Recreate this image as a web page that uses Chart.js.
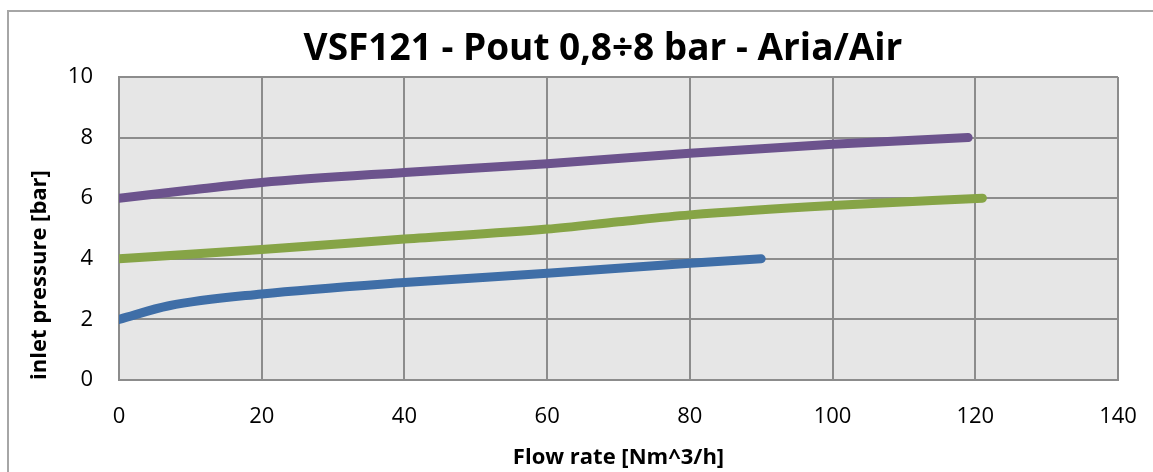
<!DOCTYPE html>
<html>
<head>
<meta charset="utf-8">
<script src="https://cdn.jsdelivr.net/npm/chart.js@4.4.1/dist/chart.umd.min.js"></script>
<style>
  html, body { margin: 0; padding: 0; background: #fff; overflow: hidden; }
  #frame {
    position: absolute; left: 7px; top: 10px; width: 1300px; height: 600px;
    border: 2px solid #a6a6a6; box-sizing: border-box;
  }
  #wrap { position: absolute; left: 0; top: 0; width: 1153px; height: 472px; }
</style>
</head>
<body>
<div id="frame"></div>
<div id="wrap"><canvas id="flowChart"></canvas></div>
<script>
// Curves (flow rate -> inlet pressure)
const lowFlow = [0, 7, 20, 40, 60, 80, 90];
const lowPressure = [2.0, 2.45, 2.84, 3.22, 3.52, 3.85, 4.0];

const midFlow = [0, 20, 40, 60, 70, 80, 100, 121];
const midPressure = [4.0, 4.31, 4.65, 4.98, 5.22, 5.45, 5.76, 6.0];

const highFlow = [0, 10, 20, 40, 60, 80, 100, 119];
const highPressure = [6.0, 6.27, 6.52, 6.85, 7.14, 7.48, 7.78, 8.0];

const xTicks = [0, 20, 40, 60, 80, 100, 120, 140];
const yTicks = [0, 2, 4, 6, 8, 10];

const chartTitle = 'VSF121 - Pout 0,8÷8 bar - Aria/Air';

const FONT = "'Open Sans', sans-serif";
const GRID = '#8c8c8c';

function toPoints(xs, ys) {
    return xs.map((x, i) => ({ x: x, y: ys[i] }));
}

function curve(xs, ys, color) {
    return {
        data: toPoints(xs, ys),
        borderColor: color,
        backgroundColor: color,
        borderWidth: 9,
        borderCapStyle: 'round',
        borderJoinStyle: 'round',
        pointRadius: 0,
        showLine: true,
        cubicInterpolationMode: 'monotone'
    };
}

// Grey plot background
const plotBackground = {
    id: 'plotBackground',
    beforeDraw(chart) {
        const { ctx, chartArea } = chart;
        ctx.save();
        ctx.fillStyle = '#e6e6e6';
        ctx.fillRect(chartArea.left, chartArea.top, chartArea.width, chartArea.height);
        ctx.restore();
    }
};

// Title centred on the outer frame rather than the plot
const frameTitle = {
    id: 'frameTitle',
    afterDraw(chart) {
        const ctx = chart.ctx;
        ctx.save();
        ctx.font = "bold 37px " + FONT;
        ctx.fillStyle = '#000';
        ctx.textAlign = 'center';
        ctx.textBaseline = 'middle';
        ctx.fillText(chartTitle, 603, 49.5);
        ctx.restore();
    }
};

const ctx = document.getElementById('flowChart').getContext('2d');
new Chart(ctx, {
    type: 'scatter',
    data: {
        datasets: [
            curve(lowFlow, lowPressure, '#3f6ea7'),
            curve(midFlow, midPressure, '#86a446'),
            curve(highFlow, highPressure, '#6c538d')
        ]
    },
    options: {
        responsive: true,
        maintainAspectRatio: false,
        animation: false,
        layout: { padding: { left: 0, right: 35, top: 77, bottom: 0 } },
        plugins: {
            legend: { display: false },
            tooltip: { enabled: false },
            title: { display: false }
        },
        scales: {
            x: {
                type: 'linear',
                min: 0,
                max: 140,
                afterBuildTicks: scale => { scale.ticks = xTicks.map(v => ({ value: v })); },
                afterFit: scale => {
                    scale.height = 92;
                    scale.paddingLeft = 0;
                    scale.paddingRight = 0;
                },
                grid: { color: GRID, lineWidth: 2, drawTicks: false },
                border: { color: GRID, width: 2 },
                ticks: { color: '#000', padding: 24, font: { family: FONT, size: 22 } },
                title: {
                    display: true,
                    text: 'Flow rate [Nm^3/h]',
                    color: '#000',
                    font: { family: FONT, size: 22, weight: 'bold' },
                    padding: { top: 1.3, bottom: 1.3 }
                }
            },
            y: {
                type: 'linear',
                min: 0,
                max: 10,
                afterBuildTicks: scale => { scale.ticks = yTicks.map(v => ({ value: v })); },
                afterFit: scale => { scale.width = 119; },
                grid: { color: GRID, lineWidth: 2, drawTicks: false },
                border: { color: GRID, width: 2 },
                ticks: { color: '#000', padding: 26, font: { family: FONT, size: 22 } },
                title: {
                    display: true,
                    text: 'inlet pressure [bar]',
                    align: 'start',
                    color: '#000',
                    font: { family: FONT, size: 22, weight: 'bold' },
                    padding: { top: 27, bottom: 27 }
                }
            }
        }
    },
    plugins: [plotBackground, frameTitle]
});
</script>
</body>
</html>
